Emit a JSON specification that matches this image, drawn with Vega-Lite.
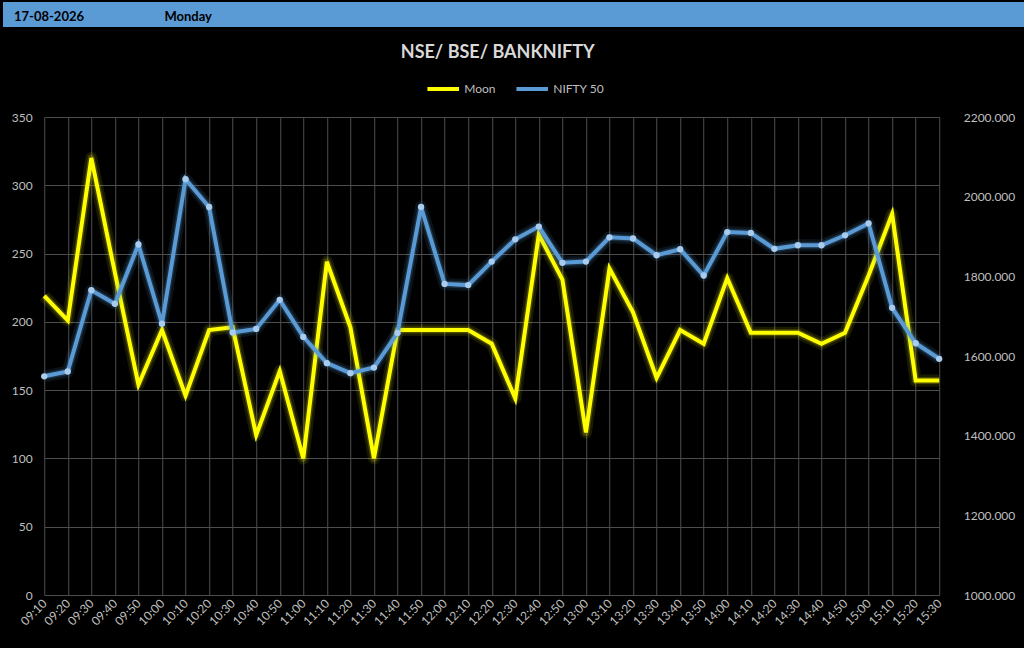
{
  "$schema": "https://vega.github.io/schema/vega-lite/v6.json",
  "background": "black",
  "padding": {"left": 3, "right": 2, "top": 2, "bottom": 20},
  "center": true,
  "config": {
    "font": "Lato",
    "view": {"stroke": null},
    "concat": {"spacing": 17},
    "axis": {
      "labelColor": "#bfbfbf",
      "labelFont": "Lato",
      "labelFontSize": 12,
      "gridColor": "#4d4d4d",
      "gridWidth": 1,
      "domain": false,
      "ticks": false
    },
    "legend": {"layout": {"top": {"anchor": "middle"}}}
  },
  "resolve": {"scale": {"color": "independent"}, "legend": {"color": "independent"}},
  "vconcat": [
    {
      "width": 1053,
      "height": 25,
      "view": {"fill": "#5b9bd5", "stroke": null},
      "data": {
        "values": [
          {"cell": "A", "text": "17-08-2026"},
          {"cell": "C", "text": "Monday"}
        ]
      },
      "mark": {
        "type": "text",
        "align": "left",
        "baseline": "middle",
        "dx": 11,
        "dy": 2,
        "font": "Lato",
        "fontSize": 13,
        "fontWeight": "bold",
        "color": "#000000"
      },
      "encoding": {
        "x": {
          "field": "cell",
          "type": "nominal",
          "bandPosition": 0,
          "scale": {
            "type": "band",
            "domain": ["A", "B", "C", "D", "E", "F", "G", "H", "I", "J", "K", "L", "M", "N"],
            "paddingInner": 0,
            "paddingOuter": 0
          },
          "axis": null
        },
        "text": {"field": "text"}
      }
    },
    {
      "width": 907,
      "height": 478,
      "title": {
        "text": "NSE/ BSE/ BANKNIFTY",
        "color": "#d9d9d9",
        "font": "Lato",
        "fontSize": 18,
        "fontWeight": "bold",
        "anchor": "middle",
        "offset": 9
      },
      "data": {
        "values": [
          {"time": "09:10", "moon": 219, "nifty": 1549},
          {"time": "09:20", "moon": 201, "nifty": 1561},
          {"time": "09:30", "moon": 320, "nifty": 1765},
          {"time": "09:40", "moon": 236, "nifty": 1731},
          {"time": "09:50", "moon": 154, "nifty": 1880},
          {"time": "10:00", "moon": 194, "nifty": 1681},
          {"time": "10:10", "moon": 146, "nifty": 2044},
          {"time": "10:20", "moon": 194, "nifty": 1974},
          {"time": "10:30", "moon": 196, "nifty": 1659},
          {"time": "10:40", "moon": 117, "nifty": 1668},
          {"time": "10:50", "moon": 164, "nifty": 1741},
          {"time": "11:00", "moon": 100, "nifty": 1648},
          {"time": "11:10", "moon": 244, "nifty": 1582},
          {"time": "11:20", "moon": 196, "nifty": 1557},
          {"time": "11:30", "moon": 100, "nifty": 1571},
          {"time": "11:40", "moon": 194, "nifty": 1658},
          {"time": "11:50", "moon": 194, "nifty": 1974},
          {"time": "12:00", "moon": 194, "nifty": 1781},
          {"time": "12:10", "moon": 194, "nifty": 1778},
          {"time": "12:20", "moon": 184, "nifty": 1837},
          {"time": "12:30", "moon": 144, "nifty": 1893},
          {"time": "12:40", "moon": 264, "nifty": 1925},
          {"time": "12:50", "moon": 231, "nifty": 1834},
          {"time": "13:00", "moon": 119, "nifty": 1837},
          {"time": "13:10", "moon": 239, "nifty": 1898},
          {"time": "13:20", "moon": 207, "nifty": 1895},
          {"time": "13:30", "moon": 159, "nifty": 1853},
          {"time": "13:40", "moon": 194, "nifty": 1868},
          {"time": "13:50", "moon": 184, "nifty": 1802},
          {"time": "14:00", "moon": 232, "nifty": 1911},
          {"time": "14:10", "moon": 192, "nifty": 1909},
          {"time": "14:20", "moon": 192, "nifty": 1869},
          {"time": "14:30", "moon": 192, "nifty": 1878},
          {"time": "14:40", "moon": 184, "nifty": 1878},
          {"time": "14:50", "moon": 192, "nifty": 1903},
          {"time": "15:00", "moon": 234, "nifty": 1933},
          {"time": "15:10", "moon": 279, "nifty": 1721},
          {"time": "15:20", "moon": 157, "nifty": 1632},
          {"time": "15:30", "moon": 157, "nifty": 1593}
        ]
      },
      "encoding": {
        "x": {
          "field": "time",
          "type": "ordinal",
          "sort": null,
          "scale": {"type": "point", "range": [0, 895], "padding": 0},
          "axis": {
            "title": null,
            "grid": true,
            "labelAngle": -45,
            "labelAlign": "right",
            "labelBaseline": "middle",
            "labelPadding": 6
          }
        }
      },
      "layer": [
        {
          "encoding": {
            "y": {
              "field": "moon",
              "type": "quantitative",
              "scale": {"domain": [0, 350], "nice": false},
              "axis": {
                "title": " ",
                "titleFontSize": 6,
                "titlePadding": 2,
                "orient": "left",
                "grid": true,
                "values": [0, 50, 100, 150, 200, 250, 300, 350],
                "labelPadding": 12
              }
            }
          },
          "layer": [
            {"mark": {"type": "line", "color": "#ffff00", "strokeWidth": 12, "opacity": 0.1, "strokeJoin": "round"}},
            {"mark": {"type": "line", "color": "#ffff00", "strokeWidth": 7, "opacity": 0.2, "strokeJoin": "round"}},
            {
              "mark": {"type": "line", "strokeWidth": 4},
              "encoding": {
                "color": {
                  "datum": "Moon",
                  "scale": {"domain": ["Moon", "NIFTY 50"], "range": ["#ffff00", "#5b9bd5"]},
                  "legend": {
                    "title": " ",
                    "titleOrient": "left",
                    "titleFontSize": 12,
                    "titlePadding": 34,
                    "orient": "top",
                    "direction": "horizontal",
                    "symbolType": "stroke",
                    "symbolSize": 1000,
                    "symbolStrokeWidth": 4,
                    "labelColor": "#bfbfbf",
                    "labelFont": "Lato",
                    "labelFontSize": 12,
                    "labelOffset": 3,
                    "columnPadding": 12,
                    "offset": 20
                  }
                }
              }
            }
          ]
        },
        {
          "encoding": {
            "y": {
              "field": "nifty",
              "type": "quantitative",
              "scale": {"domain": [1000, 2200], "nice": false},
              "axis": {
                "title": null,
                "orient": "right",
                "grid": false,
                "values": [1000, 1200, 1400, 1600, 1800, 2000, 2200],
                "format": ".3f",
                "labelPadding": 12
              }
            }
          },
          "layer": [
            {"mark": {"type": "line", "color": "#5b9bd5", "strokeWidth": 12, "opacity": 0.12, "strokeJoin": "round"}},
            {"mark": {"type": "line", "color": "#5b9bd5", "strokeWidth": 7, "opacity": 0.22, "strokeJoin": "round"}},
            {
              "mark": {"type": "line", "strokeWidth": 4},
              "encoding": {"color": {"datum": "NIFTY 50"}}
            },
            {"mark": {"type": "point", "filled": true, "size": 40, "color": "#a8cbee", "opacity": 1}}
          ]
        }
      ],
      "resolve": {"scale": {"y": "independent"}}
    }
  ]
}
